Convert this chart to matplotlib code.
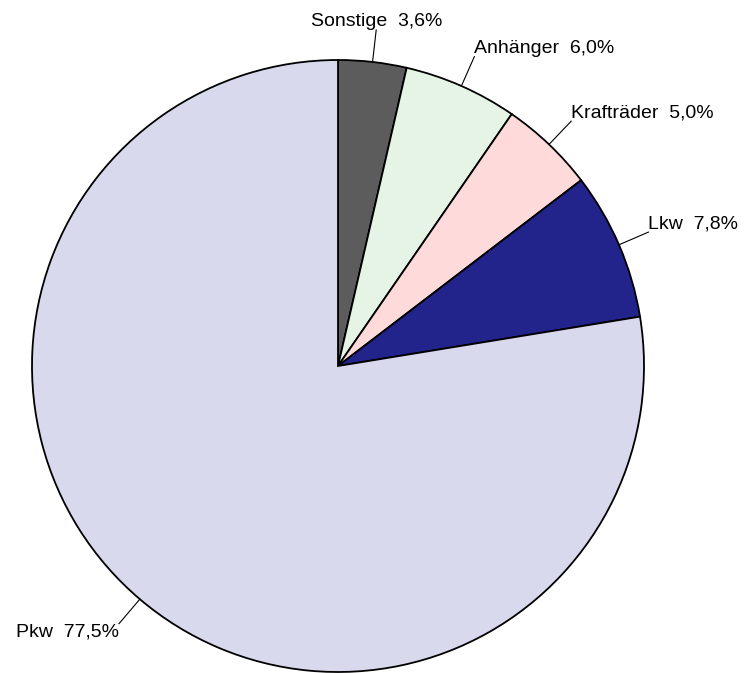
import numpy as np
import matplotlib.pyplot as plt

# Kfz-Bestand nach Fahrzeugarten (Anteile in %)
labels = ['Sonstige', 'Anhänger', 'Krafträder', 'Lkw', 'Pkw']
shares = [3.6, 6.0, 5.0, 7.8, 77.5]
colors = ['#5c5c5c', '#e6f4e6', '#ffdada', '#23238c', '#d9d9ee']

plt.rcParams['font.family'] = ['Liberation Sans', 'DejaVu Sans']

fig = plt.figure(figsize=(7.44, 6.73), dpi=100)
ax = fig.add_axes([32 / 744, 1 / 673, 612 / 744, 612 / 673])

wedges, _ = ax.pie(shares, colors=colors, startangle=90, counterclock=False,
                   radius=1.0,
                   wedgeprops=dict(edgecolor='black', linewidth=1.3))

# labels with short radial leader lines
for w, lab, val in zip(wedges, labels, shares):
    ang = np.deg2rad((w.theta1 + w.theta2) / 2)
    c, s = np.cos(ang), np.sin(ang)
    x0, y0 = c * 1.0, s * 1.0
    x1, y1 = c * 1.105, s * 1.105
    ax.plot([x0, x1], [y0, y1], color='black', linewidth=0.8, clip_on=False)
    if abs(c) < 0.2:
        ha = 'center'
    elif c > 0:
        ha = 'left'
    else:
        ha = 'right'
    va = 'bottom' if s > 0 else 'top'
    txt = '%s  %s%%' % (lab, ('%.1f' % val).replace('.', ','))
    ax.text(x1, y1, txt, ha=ha, va=va, fontsize=14, clip_on=False)

ax.set_xlim(-1, 1)
ax.set_ylim(-1, 1)
ax.set_aspect('equal')
ax.axis('off')

fig.savefig('out.png', dpi=100)
